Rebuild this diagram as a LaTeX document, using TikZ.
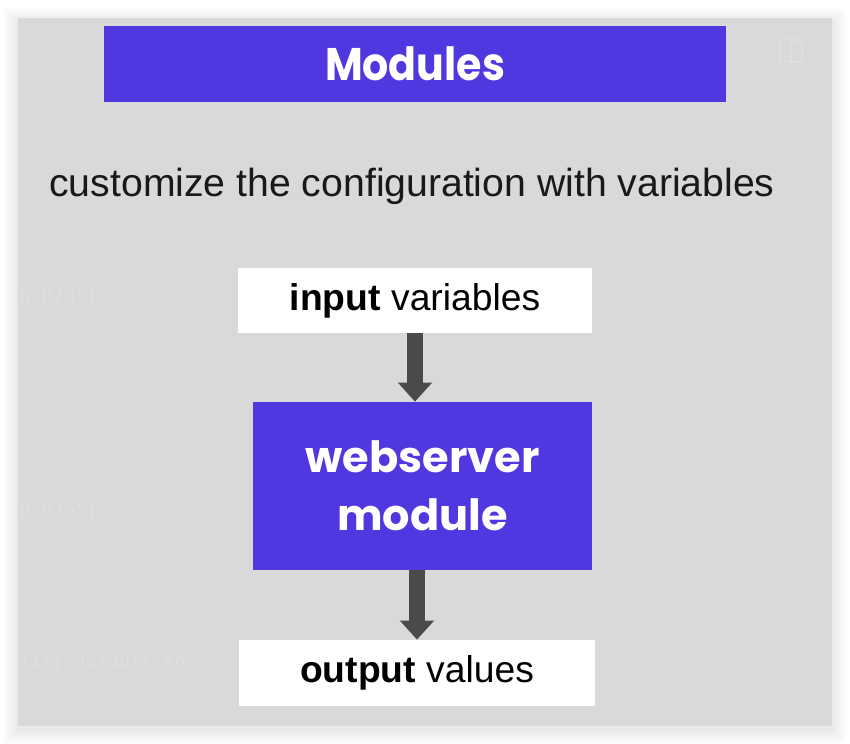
\documentclass[tikz,border=0pt]{standalone}
\usepackage{fontspec}
\setmainfont{Liberation Sans}
\newfontfamily\titlefont{Poppins}
\newfontfamily\headfont[FakeStretch=0.9]{Poppins}
\setmonofont{DejaVu Sans Mono}
\usetikzlibrary{arrows.meta,positioning}

\definecolor{panelgray}{RGB}{217,217,217}
\definecolor{modblue}{RGB}{80,56,224}
\definecolor{arrowgray}{RGB}{74,74,74}
\definecolor{codefaint}{RGB}{226,221,221}

\tikzset{
  titlebox/.style={fill=modblue, inner sep=0pt, text=white,
    font=\headfont\bfseries\fontsize{26}{30}\selectfont},
  whitebox/.style={fill=white, inner sep=0pt, text=black,
    font=\fontsize{21.2}{24}\selectfont},
  flow/.style={draw=arrowgray, line width=0.32cm,
    -{Triangle[width=0.66cm,length=0.38cm]}},
  faintcode/.style={anchor=west, inner sep=0pt, text=codefaint,
    font=\ttfamily\fontsize{10.5}{12}\selectfont}
}

\begin{document}
\begin{tikzpicture}[x=0.02cm,y=-0.02cm]
  \useasboundingbox (0,0) rectangle (850,744);
  % soft shadow round the panel
  \foreach \s in {14,12,...,2}
    \fill[black,opacity=0.012] (18-\s,18-\s+4) rectangle (832+\s,726+\s+4);
  % panel
  \fill[panelgray] (18,18) rectangle (832,726);
  % faint code behind
  \node[faintcode] (c1) at (19,298) {0.0/0"]};
  \node[faintcode] (c2) at (19,512) {0.0/0"]};
  \node[faintcode] (c3) at (19,662) {fix\}-default-sg"};
  % faint icon, top right
  \draw[codefaint,line width=1.2pt,rounded corners=1pt] (780,40) rectangle (802,62);
  \draw[codefaint,line width=1.2pt] (791,40) -- (791,62);
  % title
  \node[titlebox, minimum width=12.44cm, minimum height=1.52cm] (title) at (415,64) {Modules};
  % subtitle
  \node[font=\fontsize{22.3}{26}\selectfont, text=black!90] (sub) at (412,186)
    {customize the configuration with variables};
  % input
  \node[whitebox, minimum width=7.08cm, minimum height=1.30cm] (in) at (415,300.5)
    {\textbf{input} variables};
  % module
  \node[titlebox, minimum width=6.78cm, minimum height=3.36cm, align=center,
    font=\titlefont\bfseries\fontsize{24.5}{33}\selectfont] (mod) at (422.5,486)
    {webserver\\module};
  % output
  \node[whitebox, minimum width=7.12cm, minimum height=1.32cm] (out) at (417,673)
    {\textbf{output} values};
  % arrows
  \draw[flow] (in.south) -- (in.south |- mod.north);
  \draw[flow] (out.north |- mod.south) -- (out.north);
\end{tikzpicture}
\end{document}
